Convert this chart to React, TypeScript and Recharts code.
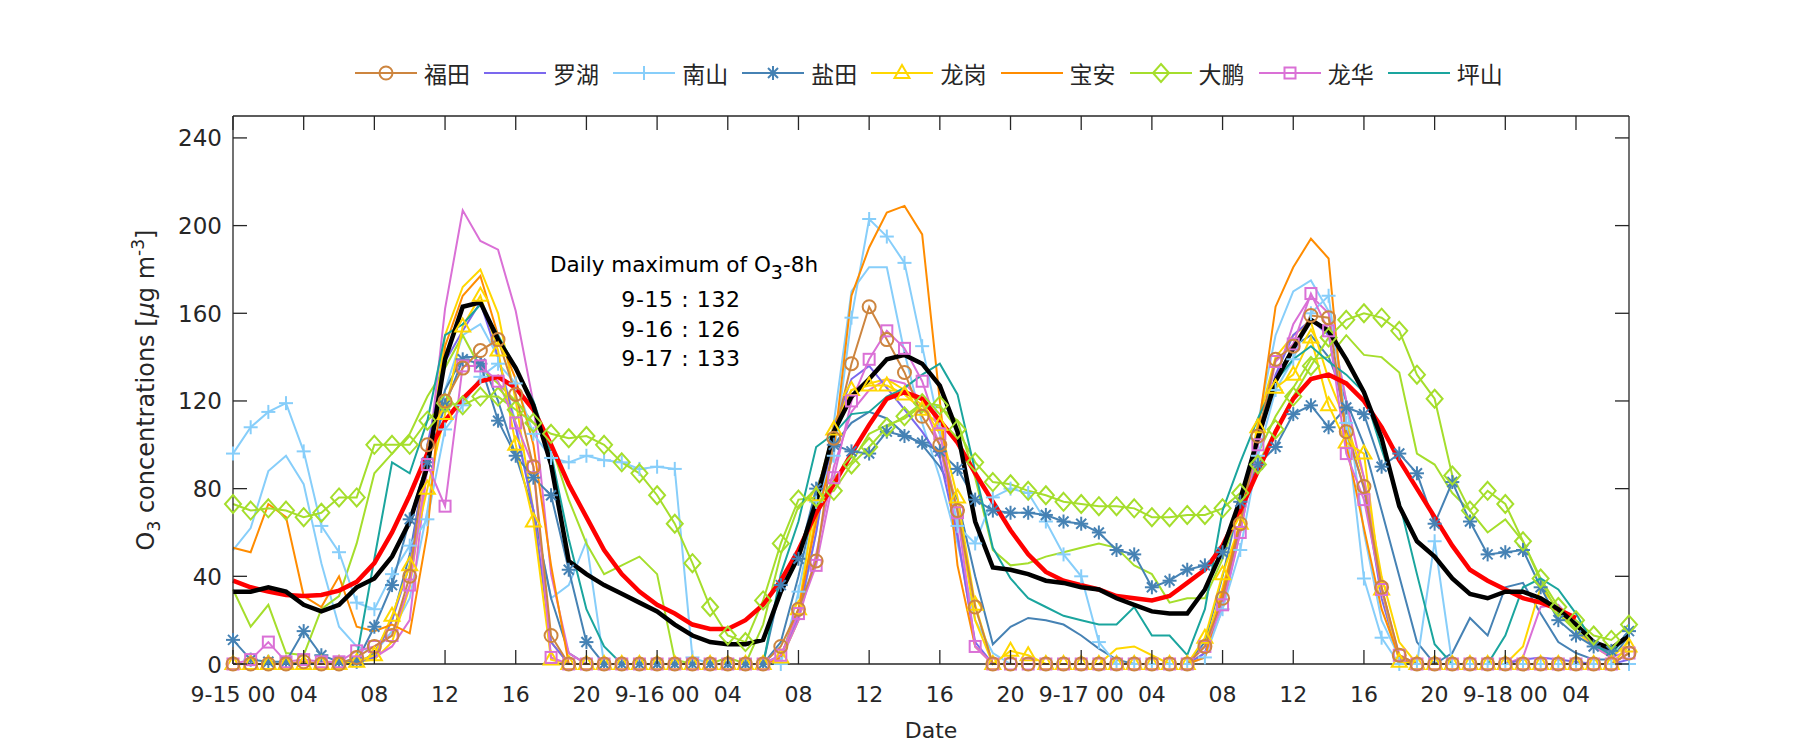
import { LineChart, Line, XAxis, YAxis } from 'recharts';

// hourly O3 values, 9-15 00:00 .. 9-18 07:00 (80 points)
const hours = [
  0, 1, 2, 3, 4, 5, 6, 7, 8, 9, 10, 11, 12, 13, 14, 15, 16, 17, 18, 19,
  20, 21, 22, 23, 24, 25, 26, 27, 28, 29, 30, 31, 32, 33, 34, 35, 36, 37, 38, 39,
  40, 41, 42, 43, 44, 45, 46, 47, 48, 49, 50, 51, 52, 53, 54, 55, 56, 57, 58, 59,
  60, 61, 62, 63, 64, 65, 66, 67, 68, 69, 70, 71, 72, 73, 74, 75, 76, 77, 78, 79,
];

const tickPos = [0, 4, 8, 12, 16, 20, 24, 28, 32, 36, 40, 44, 48, 52, 56, 60, 64, 68, 72, 76];
const tickLabels = [
  '9-15 00', '04', '08', '12', '16', '20', '9-16 00', '04', '08', '12',
  '16', '20', '9-17 00', '04', '08', '12', '16', '20', '9-18 00', '04',
];
const yTicks = [0, 40, 80, 120, 160, 200, 240];

const futian = [
  0, 0, 0, 0, 1, 0, 0, 3, 8, 13, 40, 100, 120, 135, 143, 148, 123, 90, 13,
  0, 0, 0, 0, 0, 0, 0, 0, 0, 0, 0, 0,
  8, 25, 47, 103, 137, 163, 148, 133, 113, 100, 70, 26,
  0, 0, 0, 0, 0, 0, 0, 0, 0, 0, 0,
  0, 8, 30, 64, 104, 139, 145, 159, 158, 106, 81, 35, 4,
  0, 0, 0, 0, 0, 0, 0, 0, 0, 0, 0, 0, 5,
];
const luohu = [
  0, 0, 0, 0, 0, 0, 0, 1, 3, 20, 45, 100, 138, 152, 165, 140, 108, 70, 10,
  0, 0, 0, 0, 0, 0, 0, 0, 0, 0, 0, 0, 4, 22,
  60, 108, 130, 136, 126, 116, 106, 94, 58, 10, 0,
  0, 0, 0, 0, 0, 0, 0, 0, 0, 0, 0,
  5, 30, 62, 100, 132, 150, 157, 150, 108, 80, 30, 2, 0,
  0, 0, 0, 0, 0, 2, 3, 2, 1, 0, 0, 2,
];
const nanshan = [
  96, 108, 115, 119, 97, 63, 51, 28, 25, 41, 54, 66, 107, 118, 131, 137, 128, 105, 94,
  92, 95, 93, 92, 89, 90, 89, 3, 0,
  0, 0, 0, 0, 33, 74, 95, 158, 203,
  195, 183, 145, 107, 63, 55, 76, 80, 78, 65, 50, 40, 10,
  0, 0, 0, 0, 0, 3,
  25, 52, 95, 125, 139, 160, 168, 110, 39, 12, 0, 0, 56, 0,
  0, 0, 0, 0, 0, 0, 0, 0, 0, 0,
];
const yantian = [
  11, 2, 1, 1, 15, 4, 1, 1, 17, 36, 66, 92, 118, 139, 137, 111, 95, 85, 77,
  43, 10, 0, 0, 0, 0, 0, 0, 0, 0, 0, 0,
  36, 48, 80, 100, 97, 96, 106, 104, 101, 97, 89, 75,
  70, 69, 69, 68, 65, 64, 60, 52, 50, 35, 38, 43,
  45, 51, 74, 91, 99, 114, 118, 108, 117, 114, 90, 96,
  87, 64, 83, 65, 50, 51, 52, 35, 20, 13, 8, 6, 15,
];
const longgang = [
  0, 0, 0, 0, 0, 0, 0, 1, 4, 22, 45, 80, 114, 154, 168, 143, 100, 65, 2,
  0, 0, 0, 0, 0, 0, 0, 0, 0, 0, 0, 0,
  3, 25, 77, 107, 125, 127, 127, 123, 116, 109, 76, 27,
  0, 6, 4, 0, 0, 0, 0, 0, 0, 0, 0, 0,
  12, 41, 64, 108, 126, 132, 149, 118, 101, 96, 34, 1,
  0, 0, 0, 0, 0, 0, 0, 0, 0, 0, 0, 0, 8,
];
const baoan = [
  53, 51, 73, 67, 31, 26, 40, 17, 15, 18, 14, 60, 145, 168, 177, 150, 130, 100, 45,
  0, 0, 0, 0, 0, 0, 0, 0, 0, 0, 0, 0,
  3, 25, 65, 98, 168, 190, 206, 209, 196, 120, 45, 8,
  0, 0, 0, 0, 0, 0, 0, 0, 0, 0, 0, 0,
  3, 33, 65, 106, 163, 181, 194, 185, 100, 62, 25, 3,
  0, 0, 0, 0, 0, 0, 0, 0, 0, 0, 0, 0, 5,
];
const dapeng = [
  73, 70, 71, 70, 67, 69, 76, 76, 100, 100, 100, 111, 119, 118, 122, 122, 116, 110, 105,
  103, 104, 100, 92, 87, 77, 64, 46, 26, 13, 10, 29,
  55, 75, 76, 79, 91, 99, 108, 113, 119, 118, 107, 92,
  83, 82, 79, 77, 74, 73, 72, 72, 71, 67, 67, 68,
  68, 71, 78, 91, 107, 122, 136, 149, 157, 160, 158, 152,
  132, 121, 86, 70, 79, 73, 56, 39, 26, 20, 13, 11, 18,
];
const longhua = [
  0, 2, 10, 1, 2, 1, 1, 6, 8, 13, 36, 91, 72, 136, 136, 129, 110, 90, 3,
  0, 0, 0, 0, 0, 0, 0, 0, 0, 0, 0, 0,
  4, 23, 45, 85, 120, 139, 152, 144, 129, 105, 69, 8,
  0, 0, 0, 0, 0, 0, 0, 0, 0, 0, 0, 0,
  8, 27, 60, 100, 138, 146, 169, 152, 96, 75, 34, 4,
  0, 0, 0, 0, 0, 0, 0, 0, 0, 0, 0, 0, 5,
];
const pingshan = [
  0, 0, 0, 0, 0, 0, 0, 3, 48, 92, 87, 111, 150, 155, 164, 150, 135, 120, 96,
  57, 25, 8, 0, 0, 0, 0, 0, 0, 0, 0, 0,
  41, 65, 99, 105, 114, 115, 122, 126, 132, 137, 123, 88,
  53, 39, 30, 26, 22, 20, 18, 18, 26, 13, 13, 4,
  25, 70, 92, 112, 129, 139, 145, 138, 132, 124, 98, 74,
  41, 9, 0, 0, 0, 13, 35, 39, 34, 23, 9, 4, 15,
];

// second monitoring site of some districts (plotted without markers)
const nanshan2 = [
  52, 62, 88, 95, 82, 46, 17, 8, 5, 15, 30, 70, 125, 150, 155, 140, 110, 70, 30,
  36, 56, 0, 0, 0, 0, 0, 0, 0, 0, 0, 0,
  2, 20, 60, 110, 170, 181, 181, 142, 110, 85, 55, 20,
  5, 0, 0, 0, 0, 0, 0, 0, 0, 0, 0, 0,
  5, 30, 65, 110, 150, 170, 175, 161, 120, 60, 20, 3,
  0, 0, 0, 0, 0, 0, 0, 0, 0, 0, 0, 0, 0,
];
const yantian2 = [
  0, 0, 0, 0, 0, 0, 0, 0, 5, 20, 50, 95, 125, 140, 140, 120, 95, 70, 30,
  5, 0, 0, 0, 0, 0, 0, 0, 0, 0, 0, 0,
  10, 40, 75, 100, 110, 115, 112, 105, 100, 90, 75, 40,
  9, 17, 21, 20, 18, 13, 7, 2, 0, 0, 0, 0,
  10, 40, 75, 105, 130, 145, 150, 140, 120, 100, 70, 40,
  10, 0, 5, 21, 13, 35, 37, 23, 10, 5, 2, 2, 13,
];
const longgang2 = [
  0, 0, 0, 0, 0, 0, 0, 1, 2, 10, 35, 90, 150, 172, 180, 160, 120, 70, 10,
  0, 0, 0, 0, 0, 0, 0, 0, 0, 0, 0, 0,
  2, 20, 70, 110, 125, 128, 130, 125, 118, 105, 70, 20,
  0, 0, 0, 0, 0, 0, 0, 7, 8, 4, 0, 0,
  8, 35, 65, 110, 140, 150, 156, 130, 110, 85, 40, 10,
  0, 0, 0, 0, 0, 0, 8, 35, 25, 15, 8, 3, 10,
];
const dapeng2 = [
  34, 17, 27, 5, 4, 25, 31, 55, 87, 96, 105, 122, 135, 150, 135, 128, 120, 110, 100,
  75, 55, 41, 45, 49, 41, 2, 0, 0, 3, 0, 18,
  50, 72, 80, 85, 92, 105, 109, 112, 118, 117, 111, 85,
  52, 45, 46, 49, 51, 53, 55, 53, 45, 41, 28, 30,
  30, 48, 72, 96, 113, 126, 139, 140, 150, 141, 140, 133,
  96, 91, 78, 70, 60, 66, 56, 38, 23, 15, 10, 7, 14,
];
const longhua2 = [
  0, 0, 0, 0, 0, 0, 1, 2, 3, 8, 20, 90, 162, 207, 193, 189, 161, 119, 41,
  5, 0, 0, 0, 0, 0, 0, 0, 0, 0, 0, 0,
  2, 20, 50, 90, 115, 125, 130, 128, 120, 100, 60, 8,
  0, 0, 0, 0, 0, 0, 0, 0, 0, 0, 0, 0,
  5, 25, 60, 100, 130, 155, 168, 160, 120, 85, 35, 2,
  0, 0, 0, 0, 0, 0, 3, 26, 27, 18, 8, 3, 6,
];

// city average and its smoothed curve
const cityMean = [
  33, 33, 35, 33, 27, 24, 27, 35, 39, 49, 65, 90, 139, 163, 165, 148, 135, 118, 91,
  47, 41, 36, 32, 28, 24, 18, 13, 10, 9, 9, 11,
  33, 49, 74, 106, 122, 130, 139, 141, 137, 127, 106, 65,
  44, 43, 41, 38, 37, 35, 34, 30, 27, 24, 23, 23,
  34, 52, 75, 103, 129, 144, 157, 152, 139, 124, 103, 72,
  56, 49, 39, 32, 30, 33, 33, 30, 25, 18, 10, 7, 13,
];
const cityTrend = [
  38, 35, 33, 31.5, 31, 31.5, 33.5, 37.5, 46, 60, 77, 96, 111, 121, 129, 131, 126, 116, 100,
  82, 67, 52, 41, 33, 27, 23, 18, 16, 16, 20, 27,
  38, 52, 69, 82, 96, 109, 121, 124, 121, 111, 101, 87,
  74, 61, 50, 42, 38, 36, 34, 31, 30, 29, 31, 37,
  43, 54, 70, 88, 106, 121, 130, 132, 128, 120, 108, 93,
  80, 67, 54, 43, 38, 34, 30, 28, 25, 21, null, null, null,
];

const AXIS = '#262626';
const PLOT_TOP = 116;
const PLOT_BOTTOM = 664;
const PLOT_LEFT = 233;
const PLOT_RIGHT = 1629;

type Shape = 'circle' | 'none' | 'plus' | 'star' | 'triangle' | 'diamond' | 'square';

const stations: { key: string; color: string; shape: Shape; values: (number | null)[] }[] = [
  { key: '福田', color: '#CD853F', shape: 'circle', values: futian },
  { key: '罗湖', color: '#7B68EE', shape: 'none', values: luohu },
  { key: '南山', color: '#87CEFA', shape: 'plus', values: nanshan },
  { key: '盐田', color: '#4682B4', shape: 'star', values: yantian },
  { key: '龙岗', color: '#FFD700', shape: 'triangle', values: longgang },
  { key: '宝安', color: '#FF8C00', shape: 'none', values: baoan },
  { key: '大鹏', color: '#A5DE2C', shape: 'diamond', values: dapeng },
  { key: '龙华', color: '#DA70D6', shape: 'square', values: longhua },
  { key: '坪山', color: '#1AA59E', shape: 'none', values: pingshan },
];

const extras = [
  { key: '南山2', color: '#87CEFA', values: nanshan2 },
  { key: '盐田2', color: '#4682B4', values: yantian2 },
  { key: '龙岗2', color: '#FFD700', values: longgang2 },
  { key: '大鹏2', color: '#A5DE2C', values: dapeng2 },
  { key: '龙华2', color: '#DA70D6', values: longhua2 },
];

const rows = hours.map((h, i) => {
  const r: Record<string, number | null> = { t: h };
  stations.forEach((s) => (r[s.key] = s.values[i]));
  extras.forEach((s) => (r[s.key] = s.values[i]));
  r.mean = cityMean[i];
  r.trend = cityTrend[i];
  return r;
});

function Marker({ shape, color, cx, cy }: { shape: Shape; color: string; cx: number; cy: number }) {
  const st = { fill: 'none', stroke: color, strokeWidth: 2 };
  switch (shape) {
    case 'circle':
      return <circle cx={cx} cy={cy} r={6.5} {...st} />;
    case 'square':
      return <rect x={cx - 5.5} y={cy - 5.5} width={11} height={11} {...st} />;
    case 'triangle':
      return <polygon points={`${cx},${cy - 8} ${cx - 7.5},${cy + 5} ${cx + 7.5},${cy + 5}`} {...st} />;
    case 'diamond':
      return <polygon points={`${cx},${cy - 9} ${cx + 8},${cy} ${cx},${cy + 9} ${cx - 8},${cy}`} {...st} />;
    case 'plus':
      return (
        <g {...st}>
          <line x1={cx - 7} x2={cx + 7} y1={cy} y2={cy} />
          <line x1={cx} x2={cx} y1={cy - 7} y2={cy + 7} />
        </g>
      );
    case 'star':
      return (
        <g {...st}>
          <line x1={cx - 7} x2={cx + 7} y1={cy} y2={cy} />
          <line x1={cx} x2={cx} y1={cy - 7} y2={cy + 7} />
          <line x1={cx - 5} x2={cx + 5} y1={cy - 5} y2={cy + 5} />
          <line x1={cx - 5} x2={cx + 5} y1={cy + 5} y2={cy - 5} />
        </g>
      );
    default:
      return null;
  }
}

const makeDot = (shape: Shape, color: string) => (props: any) => {
  const { cx, cy, index } = props;
  if (cx == null || cy == null || Number.isNaN(cy)) return <g key={index} />;
  return (
    <g key={index}>
      <Marker shape={shape} color={color} cx={cx} cy={cy} />
    </g>
  );
};

function XTick(props: any) {
  const { x, payload } = props;
  const label = tickLabels[tickPos.indexOf(payload.value)];
  return (
    <g>
      <line x1={x} x2={x} y1={PLOT_BOTTOM} y2={PLOT_BOTTOM - 14} stroke={AXIS} strokeWidth={1.3} />
      <line x1={x} x2={x} y1={PLOT_TOP} y2={PLOT_TOP + 14} stroke={AXIS} strokeWidth={1.3} />
      <text x={x} y={PLOT_BOTTOM + 38} textAnchor='middle' fontSize={22} fill={AXIS}>
        {label}
      </text>
    </g>
  );
}

function YTick(props: any) {
  const { y, payload } = props;
  return (
    <g>
      <line x1={PLOT_LEFT} x2={PLOT_LEFT + 14} y1={y} y2={y} stroke={AXIS} strokeWidth={1.3} />
      <line x1={PLOT_RIGHT - 14} x2={PLOT_RIGHT} y1={y} y2={y} stroke={AXIS} strokeWidth={1.3} />
      <text x={PLOT_LEFT - 11} y={y + 8.5} textAnchor='end' fontSize={23} fill={AXIS}>
        {payload.value}
      </text>
    </g>
  );
}

function LegendRow() {
  return (
    <div style={{ position: 'absolute', left: 0, top: 0, width: 1800, height: 100 }}>
      {stations.map((s, k) => (
        <div
          key={s.key}
          style={{
            position: 'absolute',
            left: 355 + k * 129.1,
            top: 58,
            height: 30,
            display: 'flex',
            alignItems: 'center',
          }}
        >
          <svg width={62} height={30}>
            <line x1={0} x2={62} y1={15} y2={15} stroke={s.color} strokeWidth={2} />
            <Marker shape={s.shape} color={s.color} cx={31} cy={15} />
          </svg>
          <span
            style={{
              marginLeft: 7,
              fontFamily: '"Noto Sans CJK SC"',
              fontSize: 23,
              color: AXIS,
              lineHeight: '30px',
            }}
          >
            {s.key}
          </span>
        </div>
      ))}
    </div>
  );
}

export default function App() {
  return (
    <div
      style={{
        position: 'absolute',
        left: 0,
        top: 0,
        width: 1800,
        height: 750,
        background: '#fff',
        fontFamily: '"DejaVu Sans"',
      }}
    >
      <LineChart
        width={1800}
        height={750}
        data={rows}
        margin={{ top: 115, right: 170, bottom: 46, left: 153 }}
      >
        <XAxis
          dataKey='t'
          type='number'
          domain={[0, 79]}
          ticks={tickPos}
          interval={0}
          height={40}
          tickSize={0}
          tickMargin={0}
          tickLine={false}
          tick={(p: any) => <XTick {...p} />}
          stroke={AXIS}
          strokeWidth={1.3}
        />
        <XAxis
          xAxisId='top'
          orientation='top'
          type='number'
          domain={[0, 79]}
          height={1}
          tick={false}
          tickLine={false}
          stroke={AXIS}
          strokeWidth={1.3}
        />
        <YAxis
          type='number'
          domain={[0, 250]}
          ticks={yTicks}
          interval={0}
          width={80}
          tickSize={0}
          tickMargin={0}
          tickLine={false}
          tick={(p: any) => <YTick {...p} />}
          stroke={AXIS}
          strokeWidth={1.3}
        />
        <YAxis
          yAxisId='right'
          orientation='right'
          type='number'
          domain={[0, 250]}
          width={1}
          tick={false}
          tickLine={false}
          stroke={AXIS}
          strokeWidth={1.3}
        />

        {extras.map((s) => (
          <Line
            key={s.key}
            dataKey={s.key}
            stroke={s.color}
            strokeWidth={2}
            dot={false}
            activeDot={false}
            legendType='none'
            isAnimationActive={false}
          />
        ))}

        {[...stations.slice(1), stations[0]].map((s) => (
          <Line
            key={s.key}
            dataKey={s.key}
            stroke={s.color}
            strokeWidth={2}
            dot={s.shape === 'none' ? false : makeDot(s.shape, s.color)}
            activeDot={false}
            isAnimationActive={false}
          />
        ))}

        <Line
          dataKey='trend'
          stroke='#FF0000'
          strokeWidth={4.5}
          dot={false}
          activeDot={false}
          legendType='none'
          isAnimationActive={false}
        />
        <Line
          dataKey='mean'
          stroke='#000000'
          strokeWidth={4.5}
          dot={false}
          activeDot={false}
          legendType='none'
          isAnimationActive={false}
        />
      </LineChart>

      <LegendRow />

      <svg
        width={1800}
        height={750}
        style={{ position: 'absolute', left: 0, top: 0, pointerEvents: 'none' }}
      >
        <g fill={AXIS} fontFamily='"DejaVu Sans"'>
          <text x={931} y={738} textAnchor='middle' fontSize={22}>
            Date
          </text>
          <text
            x={154}
            y={390}
            textAnchor='middle'
            fontSize={24}
            transform='rotate(-90 154 390)'
          >
            O
            <tspan dy={6} fontSize={17}>3</tspan>
            <tspan dy={-6}> concentrations [</tspan>
            <tspan fontStyle='italic'>μ</tspan>
            <tspan>g m</tspan>
            <tspan dy={-10} fontSize={17}>-3</tspan>
            <tspan dy={10}>]</tspan>
          </text>
          <g fill='#000' textAnchor='middle'>
            <text x={684} y={272} fontSize={21.5}>
              Daily maximum of O
              <tspan dy={7} fontSize={19}>3</tspan>
              <tspan dy={-7}>-8h</tspan>
            </text>
            <text x={681} y={307} fontSize={22} letterSpacing={0.6}>9-15 : 132</text>
            <text x={681} y={337} fontSize={22} letterSpacing={0.6}>9-16 : 126</text>
            <text x={681} y={366} fontSize={22} letterSpacing={0.6}>9-17 : 133</text>
          </g>
        </g>
      </svg>
    </div>
  );
}
